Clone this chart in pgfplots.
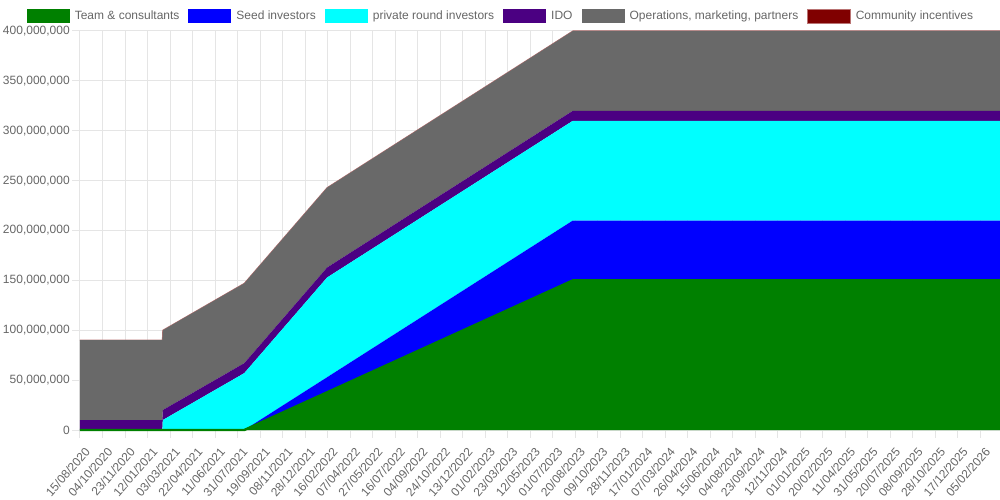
\documentclass[border=0pt]{standalone}
\usepackage{pgfplots}
\pgfplotsset{compat=1.18}
\usepackage{pgfplotstable}
\usepackage{fontspec}
\setmainfont{Liberation Sans}
\definecolor{txt}{HTML}{666666}
\definecolor{cTeam}{HTML}{008000}
\definecolor{cSeed}{HTML}{0000FF}
\definecolor{cPriv}{HTML}{00FFFF}
\definecolor{cIDO}{HTML}{4B0082}
\definecolor{cOps}{HTML}{696969}
\definecolor{cComm}{HTML}{800000}
\definecolor{gridc}{HTML}{E5E5E5}

\pgfplotstableread{
day team seed private ido ops community
0 0 0 0 10000000 80000000 0
183 0 0 0 10000000 80000000 0
184 0 0 10000000 10000000 80000000 0
365 0 0 57000000 10000000 80000000 0
549 37800000 15100000 100000000 10000000 80000000 0
1095 150000000 60000000 100000000 10000000 80000000 0
2044 150000000 60000000 100000000 10000000 80000000 0
}\vesting

\pgfplotsset{
  common/.style={
    scale only axis, width=690pt, height=299.25pt,
    xmin=0, xmax=2044, ymin=0, ymax=400000000,
  }
}

\begin{document}
\begin{tikzpicture}
\begin{axis}[
  common,
  at={(0,0)}, anchor=south west,
  stack plots=y,
  scaled y ticks=false,
  axis x line=bottom, axis y line=left,
  axis line style={-, draw=gridc, line width=0.75pt},
  xtick={0,50,100,150,200,250,300,350,400,450,500,550,600,650,700,750,800,850,900,950,1000,1050,1100,1150,1200,1250,1300,1350,1400,1450,1500,1550,1600,1650,1700,1750,1800,1850,1900,1950,2000},
  xticklabels={15/08/2020,04/10/2020,23/11/2020,12/01/2021,03/03/2021,22/04/2021,11/06/2021,31/07/2021,19/09/2021,08/11/2021,28/12/2021,16/02/2022,07/04/2022,27/05/2022,16/07/2022,04/09/2022,24/10/2022,13/12/2022,01/02/2023,23/03/2023,12/05/2023,01/07/2023,20/08/2023,09/10/2023,28/11/2023,17/01/2024,07/03/2024,26/04/2024,15/06/2024,04/08/2024,23/09/2024,12/11/2024,01/01/2025,20/02/2025,11/04/2025,31/05/2025,20/07/2025,08/09/2025,28/10/2025,17/12/2025,05/02/2026},
  ytick={0,50000000,100000000,150000000,200000000,250000000,300000000,350000000,400000000},
  yticklabels={0,{50,000,000},{100,000,000},{150,000,000},{200,000,000},{250,000,000},{300,000,000},{350,000,000},{400,000,000}},
  grid=major, grid style={draw=gridc, line width=0.75pt},
  tick align=outside, major tick length=6pt,
  tick style={draw=gridc, line width=0.75pt},
  /pgf/number format/assume math mode=true,
  xticklabel style={xshift=3pt, yshift=-4.5pt, rotate=49, anchor=north east, font=\fontsize{9}{10}\selectfont, text=txt, inner sep=1pt},
  yticklabel style={font=\fontsize{9}{10}\selectfont, text=txt, inner sep=1.5pt},
  legend columns=6,
  legend style={draw=none, fill=none, at={(0.4565,1)}, anchor=center, yshift=11pt,
    font=\fontsize{9}{10}\selectfont,
    nodes={inner sep=0pt, text=txt},
    /tikz/every even column/.append style={column sep=6.75pt}},
  legend cell align=left,
  legend image code/.code={\fill[#1] (0pt,-5.25pt) rectangle (32.25pt,5.25pt); \path[draw=none,fill=none] (0pt,0pt) -- (36pt,0pt);},
]
\addplot[fill=cTeam, draw=none] table[x=day,y=team]{\vesting} \closedcycle;
\addlegendentry{Team \& consultants}
\addplot[fill=cSeed, draw=none] table[x=day,y=seed]{\vesting} \closedcycle;
\addlegendentry{Seed investors}
\addplot[fill=cPriv, draw=none] table[x=day,y=private]{\vesting} \closedcycle;
\addlegendentry{private round investors}
\addplot[fill=cIDO, draw=none] table[x=day,y=ido]{\vesting} \closedcycle;
\addlegendentry{IDO}
\addplot[fill=cOps, draw=none] table[x=day,y=ops]{\vesting} \closedcycle;
\addlegendentry{Operations, marketing, partners}
\addplot[fill=cComm, draw=cComm!55, line width=0.75pt] table[x=day,y=community]{\vesting} \closedcycle;
\addlegendentry{Community incentives}
\end{axis}
\begin{axis}[common, at={(0,0)}, anchor=south west, hide axis, clip=false]
\addplot[cTeam, line width=1.8pt] table[x=day,y=team]{\vesting};
\end{axis}
\pgfresetboundingbox
\path[use as bounding box] (-60pt,-52.5pt) rectangle (690pt,322.5pt);
\end{tikzpicture}
\end{document}
